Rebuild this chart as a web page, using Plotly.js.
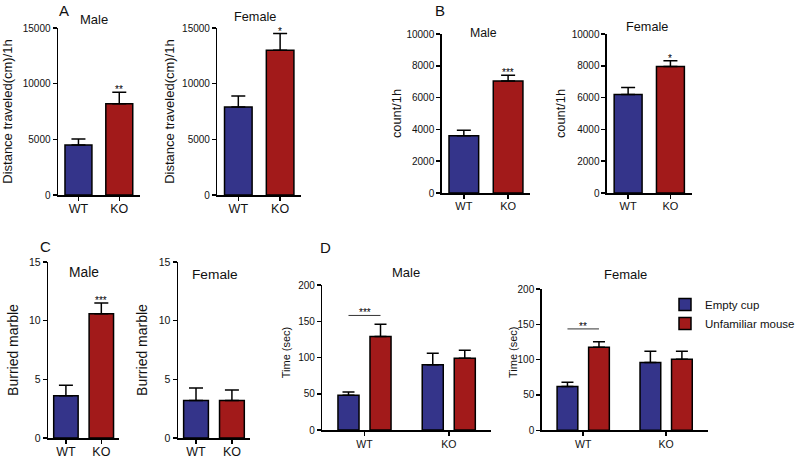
<!DOCTYPE html>
<html><head><meta charset="utf-8">
<script src="https://cdn.plot.ly/plotly-3.0.1.min.js"></script>
<style>html,body{margin:0;padding:0;background:#fff}#chart{width:800px;height:468px}</style>
</head><body><div id="chart"></div>
<script>
// ---------- data ----------
const genotypes = ['WT', 'KO'];
// A: distance traveled (cm)/1h
const distMaleMean = [4500, 8200];
const distMaleSem = [530, 1040];
const distMaleStars = ['', '**'];
const distFemaleMean = [7900, 13000];
const distFemaleSem = [1000, 1500];
const distFemaleStars = ['', '*'];
// B: count/1h
const countMaleMean = [3600, 7050];
const countMaleSem = [350, 350];
const countMaleStars = ['', '***'];
const countFemaleMean = [6200, 7950];
const countFemaleSem = [440, 370];
const countFemaleStars = ['', '*'];
// C: buried marbles
const marbleMaleMean = [3.6, 10.6];
const marbleMaleSem = [0.9, 0.9];
const marbleMaleStars = ['', '***'];
const marbleFemaleMean = [3.2, 3.2];
const marbleFemaleSem = [1.06, 0.9];
const marbleFemaleStars = ['', ''];
// D: time (sec) near empty cup vs unfamiliar mouse
const socialLabels = ['Empty cup', 'Unfamiliar mouse'];
const timeMaleEmpty = [48, 90];
const timeMaleEmptySem = [4.4, 16];
const timeMaleMouse = [129, 99];
const timeMaleMouseSem = [17, 11];
const timeFemaleEmpty = [62, 96];
const timeFemaleEmptySem = [6, 16];
const timeFemaleMouse = [117.5, 100.5];
const timeFemaleMouseSem = [8, 11.5];
const sigLineY = [158, 143.5];          // male, female (WT comparison)
const sigLineStars = ['***', '**'];

// ---------- style ----------
const W = 800, H = 468;
const FONT = 'Arial, "Liberation Sans", sans-serif';
const BLUE = '#34348a', RED = '#a21a1a', INK = '#111';
const px2x = v => v / W, px2y = v => 1 - v / H;

const panels = [
  {mean: distMaleMean, sem: distMaleSem, stars: distMaleStars, xd: [59, 142], yd: [195, 28], range: [0, 15000], dtick: 5000,
   ytitle: 'Distance traveled(cm)/1h', ytf: 13, so: 11, tf: 10, xtf: 12.5, xso: -3, title: 'Male', tpos: [95.5, 20], ts: 13, bw: 0.66, cap: 7},
  {mean: distFemaleMean, sem: distFemaleSem, stars: distFemaleStars, xd: [221, 306], yd: [195, 28], range: [0, 15000], dtick: 5000,
   ytitle: 'Distance traveled(cm)/1h', ytf: 13, so: 4, tf: 10, xtf: 12.5, xso: -3, title: 'Female', tpos: [259.5, 17], ts: 12.7, bw: 0.66, cap: 7},
  {mean: countMaleMean, sem: countMaleSem, stars: countMaleStars, xd: [449, 539], yd: [193, 34], range: [0, 10000], dtick: 2000,
   ytitle: 'count/1h', ytf: 12.8, so: 2, tf: 10, xtf: 11, xso: -2, title: 'Male', tpos: [491, 33], ts: 12.3, bw: 0.67, cap: 7},
  {mean: countFemaleMean, sem: countFemaleSem, stars: countFemaleStars, xd: [617, 703], yd: [193, 34], range: [0, 10000], dtick: 2000,
   ytitle: 'count/1h', ytf: 12.8, so: 3, tf: 10, xtf: 11, xso: -2, title: 'Female', tpos: [658, 27], ts: 12.7, bw: 0.66, cap: 7},
  {mean: marbleMaleMean, sem: marbleMaleSem, stars: marbleMaleStars, xd: [49, 121], yd: [438, 262], range: [0, 15], dtick: 5,
   ytitle: 'Burried marble', ytf: 14, so: 7, tf: 10.5, xtf: 12.5, xso: -3, title: 'Male', tpos: [85, 272], ts: 13.8, bw: 0.69, cap: 7},
  {mean: marbleFemaleMean, sem: marbleFemaleSem, stars: marbleFemaleStars, xd: [181, 254], yd: [438, 262], range: [0, 15], dtick: 5,
   ytitle: 'Burried marble', ytf: 14, so: 8, tf: 10.5, xtf: 12.5, xso: -3, title: 'Female', tpos: [219, 274], ts: 13.7, bw: 0.69, cap: 7},
];
const dPanels = [
  {empty: timeMaleEmpty, emptySem: timeMaleEmptySem, mouse: timeMaleMouse, mouseSem: timeMaleMouseSem,
   xd: [327.7, 499], yd: [430, 285], title: 'Male', tpos: [413, 272], ytpos: [291, 352]},
  {empty: timeFemaleEmpty, emptySem: timeFemaleEmptySem, mouse: timeFemaleMouse, mouseSem: timeFemaleMouseSem,
   xd: [550.7, 719.3], yd: [430.3, 289], title: 'Female', tpos: [636, 274], ytpos: [521.5, 352]},
];

const traces = [], layout = {
  width: W, height: H, margin: {l: 0, r: 0, t: 0, b: 0},
  paper_bgcolor: '#fff', plot_bgcolor: 'rgba(0,0,0,0)',
  font: {family: FONT, color: INK},
  barmode: 'overlay', showlegend: true,
  legend: {x: px2x(676), y: px2y(290), xanchor: 'left', yanchor: 'top', font: {size: 11.5, family: FONT, color: INK},
           bgcolor: 'rgba(0,0,0,0)', tracegroupgap: 0},
  annotations: [], shapes: []
};

function axes(n, p, opts) {
  const sfx = n === 1 ? '' : String(n);
  layout['xaxis' + sfx] = {
    domain: [px2x(p.xd[0]), px2x(p.xd[1])], anchor: 'y' + sfx, type: 'category', range: [-0.5, 1.5],
    showline: true, linecolor: '#000', linewidth: 1.5, ticks: 'outside', ticklen: 4, tickwidth: 1.5, tickcolor: '#000',
    ticklabelstandoff: opts.xso,
    tickfont: {size: opts.xtf, color: INK, family: FONT}, showgrid: false, zeroline: false, fixedrange: true
  };
  const ya = {
    domain: [px2y(p.yd[0]), px2y(p.yd[1])], anchor: 'x' + sfx, range: opts.range, tick0: 0, dtick: opts.dtick,
    tickformat: 'd', separatethousands: false,
    showline: true, linecolor: '#000', linewidth: 1.5, ticks: 'outside', ticklen: 4, tickwidth: 1.5, tickcolor: '#000',
    tickfont: {size: opts.tf, color: INK, family: FONT}, showgrid: false, zeroline: false, fixedrange: true
  };
  if (opts.ytpos) {
    // axis title placed as a rotated label next to the axis
    layout.annotations.push({xref: 'paper', yref: 'paper', x: px2x(opts.ytpos[0]), y: px2y(opts.ytpos[1]),
      xanchor: 'center', yanchor: 'middle', textangle: -90, text: opts.ytitle, showarrow: false,
      font: {size: opts.ytf, family: FONT, color: INK}});
  } else {
    ya.title = {text: opts.ytitle, font: {size: opts.ytf, family: FONT, color: INK}, standoff: opts.so};
  }
  layout['yaxis' + sfx] = ya;
  layout.annotations.push({xref: 'paper', yref: 'paper', x: px2x(p.tpos[0]), y: px2y(p.tpos[1]), xanchor: 'center', yanchor: 'middle',
    text: p.title, showarrow: false, font: {size: opts.ts, family: FONT, color: INK}});
  return sfx;
}

panels.forEach((p, i) => {
  const sfx = axes(i + 1, p, p);
  traces.push({
    type: 'bar', x: genotypes, y: p.mean, xaxis: 'x' + sfx, yaxis: 'y' + sfx, width: p.bw,
    marker: {color: [BLUE, RED], line: {color: '#000', width: 1.5}},
    error_y: {type: 'data', array: p.sem, arrayminus: p.sem.map(() => 0), symmetric: false, color: '#000', thickness: 1.5, width: p.cap},
    showlegend: false, hoverinfo: 'skip'
  });
  p.stars.forEach((s, j) => {
    if (!s) return;
    layout.annotations.push({xref: 'x' + sfx, yref: 'y' + sfx, x: genotypes[j], y: p.mean[j] + p.sem[j],
      yanchor: 'bottom', yshift: -5, text: s, showarrow: false, font: {size: 10, family: FONT, color: '#000'}});
  });
});

const BW = 0.25, C = 0.19;
dPanels.forEach((p, i) => {
  const sfx = axes(7 + i, p, {range: [0, 200], dtick: 50, ytitle: 'Time (sec)', ytf: 11, ytpos: p.ytpos, tf: 10, xtf: 10.5, xso: 0, ts: 13});
  traces.push({
    type: 'bar', name: socialLabels[0], legendgroup: 'e', showlegend: i === 0, x: genotypes, y: p.empty,
    xaxis: 'x' + sfx, yaxis: 'y' + sfx, width: BW, offset: -C - BW / 2,
    marker: {color: BLUE, line: {color: '#000', width: 1.5}},
    error_y: {type: 'data', array: p.emptySem, arrayminus: p.emptySem.map(() => 0), symmetric: false, color: '#000', thickness: 1.5, width: 6},
    hoverinfo: 'skip'
  });
  traces.push({
    type: 'bar', name: socialLabels[1], legendgroup: 'm', showlegend: i === 0, x: genotypes, y: p.mouse,
    xaxis: 'x' + sfx, yaxis: 'y' + sfx, width: BW, offset: C - BW / 2,
    marker: {color: RED, line: {color: '#000', width: 1.5}},
    error_y: {type: 'data', array: p.mouseSem, arrayminus: p.mouseSem.map(() => 0), symmetric: false, color: '#000', thickness: 1.5, width: 6},
    hoverinfo: 'skip'
  });
  layout.shapes.push({type: 'line', xref: 'x' + sfx, yref: 'y' + sfx, x0: -C, x1: C, y0: sigLineY[i], y1: sigLineY[i],
    line: {color: '#333', width: 1}});
  layout.annotations.push({xref: 'x' + sfx, yref: 'y' + sfx, x: 0, y: sigLineY[i], yanchor: 'bottom', yshift: -5,
    text: sigLineStars[i], showarrow: false, font: {size: 10, family: FONT, color: '#000'}});
});

// panel letters
[['A', 65, 10], ['B', 447, 10], ['C', 46, 246], ['D', 331, 247]].forEach(([t, x, y]) => {
  layout.annotations.push({xref: 'paper', yref: 'paper', x: px2x(x), y: px2y(y), xanchor: 'center', yanchor: 'middle',
    text: t, showarrow: false, font: {size: 15, family: FONT, color: INK}});
});

Plotly.newPlot('chart', traces, layout, {staticPlot: true, displayModeBar: false});
</script>
</body></html>
